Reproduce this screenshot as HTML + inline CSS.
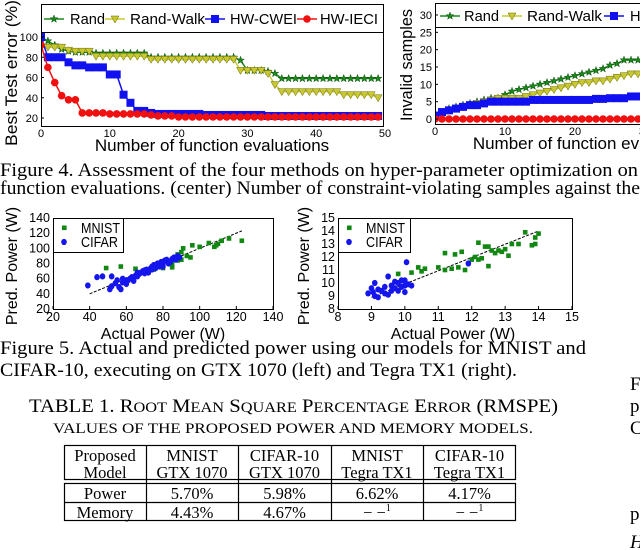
<!DOCTYPE html>
<html><head><meta charset="utf-8">
<style>
body{margin:0;background:#fff;width:640px;height:550px;overflow:hidden;position:relative}
svg{position:absolute;left:0;top:0}
.t{font-family:"Liberation Sans",sans-serif;fill:#000}
.s{font-family:"Liberation Serif",serif;fill:#000}
</style></head>
<body>
<svg id="svg" width="640" height="550" viewBox="0 0 640 550">
<g id="g1"></g>
<g id="g2"></g>
<g id="g3"></g>
<g id="g4"></g>
<text class="s" x="0" y="176" font-size="19" textLength="638" lengthAdjust="spacingAndGlyphs">Figure 4. Assessment of the four methods on hyper-parameter optimization on</text>
<text class="s" x="0" y="194" font-size="19" textLength="640" lengthAdjust="spacingAndGlyphs">function evaluations. (center) Number of constraint-violating samples against the</text>
<text class="s" x="0" y="354" font-size="19" textLength="586" lengthAdjust="spacingAndGlyphs">Figure 5. Actual and predicted power using our models for MNIST and</text>
<text class="s" x="0" y="376" font-size="19" textLength="517" lengthAdjust="spacingAndGlyphs">CIFAR-10, executing on GTX 1070 (left) and Tegra TX1 (right).</text>
<text class="s" x="29" y="412" font-size="19" textLength="529" lengthAdjust="spacingAndGlyphs">TABLE 1. R<tspan font-size="15">OOT</tspan> M<tspan font-size="15">EAN</tspan> S<tspan font-size="15">QUARE</tspan> P<tspan font-size="15">ERCENTAGE</tspan> E<tspan font-size="15">RROR</tspan> (RMSPE)</text>
<text class="s" x="53" y="433" font-size="15" textLength="480" lengthAdjust="spacingAndGlyphs">VALUES OF THE PROPOSED POWER AND MEMORY MODELS.</text>
<g stroke="#000" stroke-width="1.2" fill="none">
<rect x="64.5" y="445.5" width="451" height="34"/>
<rect x="64.5" y="483.5" width="451" height="37"/>
<line x1="64" y1="502.5" x2="516" y2="502.5"/>
<line x1="146.5" y1="445" x2="146.5" y2="521"/>
<line x1="238.5" y1="445" x2="238.5" y2="521"/>
<line x1="331.5" y1="445" x2="331.5" y2="521"/>
<line x1="423.5" y1="445" x2="423.5" y2="521"/>
</g>
<g class="s" font-size="16.5" text-anchor="middle">
<text x="105" y="461">Proposed</text><text x="105" y="478">Model</text>
<text x="192" y="461">MNIST</text><text x="192" y="478">GTX 1070</text>
<text x="284.5" y="461">CIFAR-10</text><text x="284.5" y="478">GTX 1070</text>
<text x="377" y="461">MNIST</text><text x="377" y="478">Tegra TX1</text>
<text x="469.5" y="461">CIFAR-10</text><text x="469.5" y="478">Tegra TX1</text>
<text x="105" y="499">Power</text><text x="192" y="499">5.70%</text><text x="284.5" y="499">5.98%</text><text x="377" y="499">6.62%</text><text x="469.5" y="499">4.17%</text>
<text x="105" y="518">Memory</text><text x="192" y="518">4.43%</text><text x="284.5" y="518">4.67%</text><text x="377" y="518">− −<tspan font-size="10" dy="-7">1</tspan></text><text x="469.5" y="518">− −<tspan font-size="10" dy="-7">1</tspan></text>
</g>
<g class="s" font-size="19">
<text x="630" y="390">F</text><text x="630" y="412">p</text><text x="630" y="434">C</text><text x="630" y="520">p</text><text x="630" y="548" font-style="italic">H</text>
</g>
</svg>
<script>
// Chart 1: best test error
const evalX=[...Array(50).keys()];
const randErr=[100,96,92,88,86,85,85,85,84,84,84,84,84,84,84,84,80,80,80,80,80,80,80,80,80,80,80,80,80,77,67,67,67,66,64,59,59,59,59,59,59,59,59,59,59,59,59,59,59,59];
const walkErr=[95,90,90,90,87,86,86,86,81,81,81,81,81,81,81,81,78,78,78,78,78,78,78,78,78,78,78,78,78,67,67,67,67,64,53,46,46,46,46,46,46,46,46,46,43,43,43,43,43,40];
const cweiErr=[100,80,80,80,75,72,72,70,70,70,63,63,43,35,27,27,25,24,24,24,24,24,24,24,23,23,23,23,23,23,23,23,23,22,22,22,22,22,22,22,22,22,22,22,22,22,22,22,22,22];
const ieciErr=[92,70,55,42,38,38,25,25,25,25,24,24,24,24,24,24,23,22,22,22,21,21,21,21,21,21,21,21,21,21,21,21,21,21,21,21,21,21,21,21,21,21,21,21,21,21,21,21,21,21];
const err1Ticks=[20,40,60,80,100];
const x1Ticks=[0,10,20,30,40,50];
// Chart 2: invalid samples
const evalX2=[...Array(30).keys()];
const randInv=[1,2,3,3.5,4,4.5,5,5.5,6,6,7,8,8.5,9,9.5,10,10.5,11,11.5,12,12.5,13,13.5,14,14.5,15.5,16,17,17,17];
const walkInv=[1,2,2.5,3,3.5,4,4.5,5,5.5,6,6,6,6,6.5,7,7.5,8,8.5,9,9.5,10,10.5,10.5,11,11,11.5,12,12.5,13,13];
const cweiInv=[1,2,2.5,3,3.5,4,4,4.5,5,5,5,5,5,5,5.5,5.5,5.5,5.5,5.5,5.5,5.5,5.5,5.5,5.8,5.8,6,6,6,6.5,6.5];
const ieciInv=[0,0,0,0,0,0,0,0,0,0,0,0,0,0,0,0,0,0,0,0,0,0,0,0,0,0,0,0,0,0];
const inv2Ticks=[0,5,10,15,20,25,30];
const x2Ticks=[0,10,20,30];
// Chart 3: GTX 1070 power
const gtxMnistActual=[49,57,65,80,85,88,90,91,93,96,100,105,108,109,110,112,116,123,88,70,75,85,90,95];
const gtxMnistPred=[74,76,73,74,75,84,95,100,90,104,102,107,102,104,106,110,113,110,92,70,72,80,85,88];
const gtxCifarActual=[39,44,47,52,51,52,54,56,57,58,60,60,62,63,64,65,66,67,68,69,70,71,72,73,74,75,76,77,78,79,80,81,82,83,85,86,87,88,89,55,58,61,64,66,70,74,77,80,84];
const gtxCifarPred=[51,62,63,63,46,50,54,49,46,55,58,53,60,62,57,64,63,66,68,70,67,72,68,73,76,78,74,80,76,82,80,84,85,80,86,88,85,90,88,58,60,58,62,68,71,72,77,76,82];
const gtxFit=[40,123];
const gtxTicks=[20,40,60,80,100,120,140];
// Chart 4: Tegra TX1 power
const tegMnistActual=[9.8,10.2,10.4,10.5,10.6,11,11.2,11.2,11.4,11.5,11.7,11.8,12,12.1,12.2,12.3,12.4,12.5,12.5,12.6,12.7,12.8,12.9,13,13.1,13.2,13.4,13.6,13.8,13.9,13.9,14,12.2,11.6];
const tegMnistPred=[10.7,10.8,11.2,10.9,11.1,11.2,11,12.3,11.1,12.2,12.4,11,11.8,12,13.1,11.9,12.8,11.3,12.8,12.5,12.3,12.5,12.4,12.6,12.1,13,13,13.9,12.9,13,13.5,13.8,11.8,11.2];
const tegCifarActual=[8.9,9,9.05,9.1,9.1,9.2,9.2,9.3,9.4,9.4,9.5,9.5,9.6,9.6,9.7,9.7,9.8,9.8,9.9,9.9,10,10,10.05,10.1,10.2,10,11.9];
const tegCifarPred=[9.2,9.6,9.3,10,9,9.5,8.9,9.4,9.7,9.2,10.5,9.1,9.8,9.4,10.1,9.6,10,9.4,10.2,9.7,9.3,9.8,11.6,9.9,9.8,10.2,11.5];
const tegFitX=[9,14];
const tegFitY=[8.9,14];
const tegXTicks=[8,9,10,11,12,13,14,15];
const tegYTicks=[8,9,10,11,12,13,14,15];

const NS="http://www.w3.org/2000/svg";
function mk(parent,tag,attrs){const e=document.createElementNS(NS,tag);for(const k in attrs)e.setAttribute(k,attrs[k]);parent.appendChild(e);return e;}
function lin(d0,d1,r0,r1){return v=>r0+(v-d0)*(r1-r0)/(d1-d0);}

function marker(g,kind,x,y,color){
  let e;
  if(kind==='star'){let p=[];for(let i=0;i<10;i++){const r=i%2?1.6:4;const a=-Math.PI/2+i*Math.PI/5;p.push((x+r*Math.cos(a)).toFixed(1)+','+(y+r*Math.sin(a)).toFixed(1));}
    e=mk(g,'polygon',{points:p.join(' '),fill:color,stroke:'#0a4a0a','stroke-width':0.5});}
  else if(kind==='tri'){e=mk(g,'polygon',{points:`${x-4},${y-3} ${x+4},${y-3} ${x},${y+4}`,fill:color,stroke:'#6b6b00','stroke-width':0.5});}
  else if(kind==='sq'){e=mk(g,'rect',{x:x-4,y:y-4,width:8,height:8,fill:color});}
  else {e=mk(g,'circle',{cx:x,cy:y,r:3.8,fill:color});}
  
  
}
function series(g,xs,ys,sx,sy,color,kind,name){
  const sg=mk(g,'g',{});
  
  
  const pl=mk(sg,'polyline',{points:xs.map((x,i)=>sx(x)+','+sy(ys[i])).join(' '),fill:'none',stroke:color,'stroke-width':1.5});
  
  
  xs.forEach((x,i)=>marker(sg,kind,sx(x),sy(ys[i]),color));
}
const G='#1a8a1a',Y='#c8c832',B='#1010f0',R='#f01010';

function lineChart(g,o){
  const sx=lin(o.x0,o.x1,o.L,o.Rx), sy=lin(o.y0,o.y1,o.yb,o.yt);
  const cid='c'+g.id;const cp=mk(mk(g,'defs',{}),'clipPath',{id:cid});mk(cp,'rect',{x:o.L,y:o.T,width:o.W,height:o.B-o.T});
  const dg=mk(g,'g',{'clip-path':`url(#${cid})`});
  o.series.forEach(s=>series(dg,s[0],s[1],sx,sy,s[2],s[3],s[4]));
  const fr=mk(g,'rect',{x:o.L+.5,y:o.T+.5,width:o.W,height:o.B-o.T,fill:'none',stroke:'#000','stroke-width':1});
  
  
  const lb=mk(g,'rect',{x:o.L+.5,y:o.T+.5,width:o.W,height:o.legH,fill:'#fff',stroke:'#000','stroke-width':1});
  
  
  const legs=[['Rand',G,'star'],['Rand-Walk',Y,'tri'],['HW-CWEI',B,'sq'],['HW-IECI',R,'circ']];
  const ly=o.T+o.legH/2+1;
  legs.forEach((l,i)=>{
    const lx=o.legX[i];
    const le=mk(g,'g',{});
    
    
    mk(le,'line',{x1:lx,y1:ly,x2:lx+20,y2:ly,stroke:l[1],'stroke-width':1.5});
    marker(le,l[2],lx+10,ly,l[1]);
    const t=mk(le,'text',{x:o.legT[i],y:ly+5,'font-size':15,class:'t',textLength:o.legW[i],lengthAdjust:'spacingAndGlyphs'});t.textContent=l[0];
  });
  o.yt_ticks.forEach(v=>{const t=mk(g,'text',{x:o.L-3,y:sy(v)+4,'font-size':11,'text-anchor':'end',class:'t',fill:'#222'});t.textContent=v;
    
    mk(g,'line',{x1:o.L,y1:sy(v),x2:o.L+3,y2:sy(v),stroke:'#000'});});
  o.xt_ticks.forEach(v=>{const t=mk(g,'text',{x:sx(v),y:o.B+11,'font-size':11,'text-anchor':'middle',class:'t',fill:'#222'});t.textContent=v;
    });
  const xt=mk(g,'text',{x:o.xtx,y:o.B+25,'font-size':17,'text-anchor':'middle',class:'t'});xt.textContent='Number of function evaluations';
  
  const yt=mk(g,'text',{x:0,y:0,'font-size':17,'text-anchor':'middle',class:'t',transform:`translate(${o.ytx},${o.yty}) rotate(-90)`,textLength:o.ylen,lengthAdjust:'spacingAndGlyphs'});yt.textContent=o.ylab;
  
}
lineChart(document.getElementById('g1'),{L:41,Rx:385,W:342,T:4,B:126,legH:28,x0:0,x1:50,y0:20,y1:100,yb:118,yt:37,
  legX:[44,105,205,297],legT:[70,130,230,320],legW:[35,75,67,58],
  series:[[evalX,randErr,G,'star','rand-series'],[evalX,walkErr,Y,'tri','rand-walk-series'],[evalX,cweiErr,B,'sq','hw-cwei-series'],[evalX,ieciErr,R,'circ','hw-ieci-series']],
  yt_ticks:err1Ticks,xt_ticks:x1Ticks,xtx:212,ytx:17,yty:73,ylen:146,ylab:'Best Test error (%)'});
lineChart(document.getElementById('g2'),{L:435,Rx:505,W:220,T:3,B:124,legH:24,x0:0,x1:10,y0:0,y1:30,yb:119,yt:15,
  legX:[440,502,604,700],legT:[464,527,630,730],legW:[35,75,67,58],
  series:[[evalX2,randInv,G,'star','rand-series'],[evalX2,walkInv,Y,'tri','rand-walk-series'],[evalX2,cweiInv,B,'sq','hw-cwei-series'],[evalX2,ieciInv,R,'circ','hw-ieci-series']],
  yt_ticks:inv2Ticks,xt_ticks:x2Ticks,xtx:590,ytx:412,yty:65,ylen:112,ylab:'Invalid samples'});

function scatter(g,o){
  const sx=lin(o.x0,o.x1,o.L,o.Rx), sy=lin(o.y0,o.y1,o.B,o.T);
  const fr=mk(g,'rect',{x:o.L+.5,y:o.T+.5,width:o.Rx-o.L,height:o.B-o.T,fill:'none',stroke:'#000'});
  
  const fl=mk(g,'line',{x1:sx(o.fx[0]),y1:sy(o.fy[0]),x2:sx(o.fx[1]),y2:sy(o.fy[1]),stroke:'#000','stroke-width':1,'stroke-dasharray':'3,1.5'});
  
  o.mx.forEach((x,i)=>{const e=mk(g,'rect',{x:sx(x)-2.3,y:sy(o.my[i])-2.3,width:4.6,height:4.6,fill:'#118811'});
    });
  o.cx.forEach((x,i)=>{const e=mk(g,'ellipse',{cx:sx(x),cy:sy(o.cy[i]),rx:2.8,ry:3.1,fill:'#1515ee'});
    });
  const lb=mk(g,'rect',{x:o.L+.5,y:o.T+.5,width:o.legBW,height:34,fill:'#fff',stroke:'#000'});
  
  const l1=mk(g,'g',{});
  mk(l1,'rect',{x:o.L+9,y:o.T+7.5,width:4.6,height:4.6,fill:'#118811'});
  const t1=mk(l1,'text',{x:o.L+28,y:o.T+15,'font-size':14.5,class:'t',textLength:39,lengthAdjust:'spacingAndGlyphs'});t1.textContent='MNIST';
  const l2=mk(g,'g',{});
  mk(l2,'ellipse',{cx:o.L+11,cy:o.T+24,rx:2.8,ry:3.1,fill:'#1515ee'});
  const t2=mk(l2,'text',{x:o.L+28,y:o.T+29,'font-size':14.5,class:'t',textLength:37,lengthAdjust:'spacingAndGlyphs'});t2.textContent='CIFAR';
  o.xt.forEach(v=>{const t=mk(g,'text',{x:sx(v),y:o.B+12,'font-size':12.5,'text-anchor':'middle',class:'t',fill:'#222'});t.textContent=v;
    
    mk(g,'line',{x1:sx(v),y1:o.B,x2:sx(v),y2:o.B-3,stroke:'#000'});});
  o.yt.forEach(v=>{const t=mk(g,'text',{x:o.L-3,y:sy(v)+4,'font-size':12.5,'text-anchor':'end',class:'t',fill:'#222'});t.textContent=v;
    });
  const xt=mk(g,'text',{x:o.xtx,y:339,'font-size':16,'text-anchor':'middle',class:'t'});xt.textContent='Actual Power (W)';
  
  const yt=mk(g,'text',{x:0,y:0,'font-size':16,'text-anchor':'middle',class:'t',transform:`translate(${o.ytx},266) rotate(-90)`});yt.textContent='Pred. Power (W)';
  
}
scatter(document.getElementById('g3'),{L:53,Rx:273,T:218,B:309,legBW:70,xtx:163,x0:20,x1:140,y0:20,y1:140,mx:gtxMnistActual,my:gtxMnistPred,cx:gtxCifarActual,cy:gtxCifarPred,fx:gtxFit,fy:gtxFit,xt:gtxTicks,yt:gtxTicks,ytx:17});
scatter(document.getElementById('g4'),{L:338,Rx:572,T:218,B:309,legBW:72,xtx:453,x0:8,x1:15,y0:8,y1:15,mx:tegMnistActual,my:tegMnistPred,cx:tegCifarActual,cy:tegCifarPred,fx:tegFitX,fy:tegFitY,xt:tegXTicks,yt:tegYTicks,ytx:309});
</script>
</body></html>
